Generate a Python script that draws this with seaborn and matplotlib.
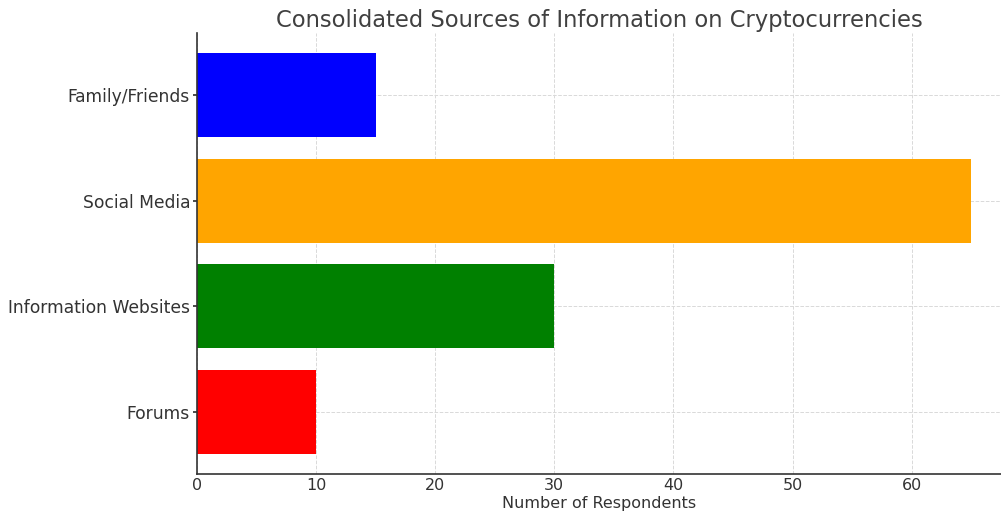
import matplotlib
matplotlib.use("Agg")
import matplotlib.pyplot as plt
import seaborn as sns
import pandas as pd

sources = ["Family/Friends", "Social Media", "Information Websites", "Forums"]
respondents = [15, 65, 30, 10]
colors = ["blue", "orange", "green", "red"]

sns.set_theme(style="ticks")
plt.rcParams["font.family"] = ["DejaVu Sans"]
text_color = "#333333"

df = pd.DataFrame({"Source": sources, "Respondents": respondents})

fig = plt.figure(figsize=(10.01, 5.15), dpi=100)
ax = fig.add_axes([0.1968, 0.0796, 0.8032, 0.8564])

sns.barplot(data=df, y="Source", x="Respondents", hue="Source",
            palette=dict(zip(sources, colors)), order=sources,
            width=0.8, saturation=1, legend=False, linewidth=0, ax=ax)

ax.set_xlim(0, 67.5)
ax.set_ylim(3.59, -0.59)
ax.set_xticks(range(0, 61, 10))
for bar in ax.patches:
    bar.set_zorder(1)
ax.grid(True, linestyle="--", color="#d9d9d9", linewidth=0.7, zorder=2)

ax.set_title("Consolidated Sources of Information on Cryptocurrencies",
             fontsize=16.3, color="#404040", pad=4)
ax.set_xlabel("Number of Respondents", fontsize=11.5, color=text_color,
              labelpad=2)
ax.set_ylabel("")
ax.tick_params(axis="y", labelsize=12.3, colors=text_color, length=3, pad=2)
ax.tick_params(axis="x", labelsize=11.5, colors=text_color, length=0, pad=3)

for side in ["top", "right"]:
    ax.spines[side].set_visible(False)
for side in ["left", "bottom"]:
    ax.spines[side].set_color(text_color)
    ax.spines[side].set_linewidth(1.2)

fig.savefig("out.png", dpi=100)
